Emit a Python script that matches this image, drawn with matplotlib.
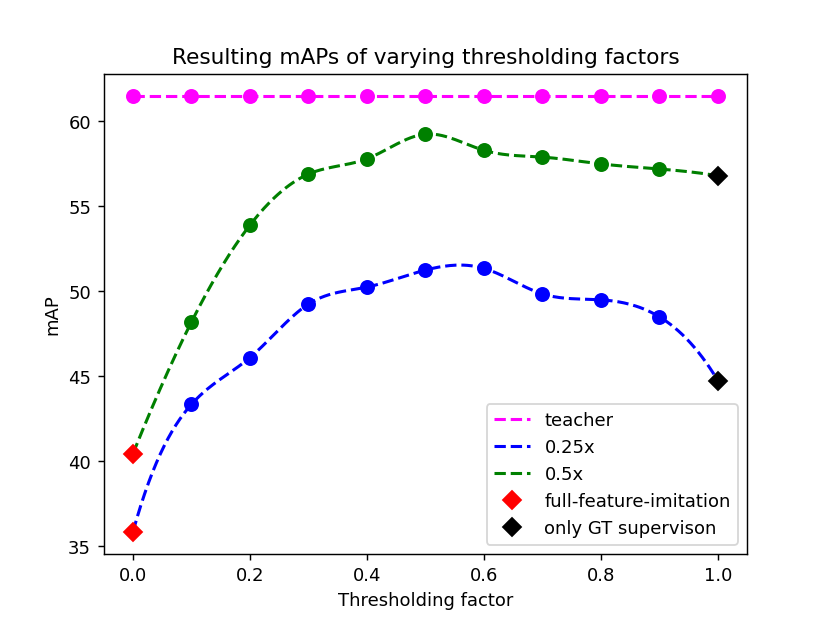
import numpy as np
import matplotlib
matplotlib.use('Agg')
import matplotlib.pyplot as plt

factors=[0.0,0.1,0.2,0.3,0.4,0.5,0.6,0.7,0.8,0.9,1.0]
teacher=[61.5]*11
map_025=[35.85,43.35,46.1,49.25,50.25,51.25,51.35,49.85,49.5,48.5,44.75]
map_05=[40.45,48.2,53.9,56.9,57.8,59.25,58.3,57.9,57.5,57.2,56.8]

def spline(x,y,num=300):
	# not-a-knot cubic spline through the points, just for drawing the curve
	x=np.asarray(x,float)
	y=np.asarray(y,float)
	n=len(x)
	h=x[1]-x[0]
	A=np.zeros((n,n))
	b=np.zeros(n)
	A[0,0:3]=[1,-2,1]
	A[-1,-3:]=[1,-2,1]
	for i in range(1,n-1):
		A[i,i-1:i+2]=[1,4,1]
		b[i]=6/h**2*(y[i-1]-2*y[i]+y[i+1])
	M=np.linalg.solve(A,b)
	xs=np.linspace(x[0],x[-1],num)
	idx=np.clip(((xs-x[0])//h).astype(int),0,n-2)
	x0=x[idx]
	x1=x[idx+1]
	ys=(M[idx]*(x1-xs)**3/(6*h)+M[idx+1]*(xs-x0)**3/(6*h)
		+(y[idx]/h-M[idx]*h/6)*(x1-xs)+(y[idx+1]/h-M[idx+1]*h/6)*(xs-x0))
	return xs,ys

plt.figure(figsize=(6.4,4.8),dpi=129.7)
xs,ys=spline(factors,teacher)
plt.plot(xs,ys,'--',color='magenta',lw=1.7,label='teacher')
xs,ys=spline(factors,map_025)
plt.plot(xs,ys,'--',color='blue',lw=1.7,label='0.25x')
xs,ys=spline(factors,map_05)
plt.plot(xs,ys,'--',color='green',lw=1.7,label='0.5x')

plt.plot(factors,teacher,'o',color='magenta',ms=7.3)
plt.plot(factors[1:-1],map_025[1:-1],'o',color='blue',ms=7.3)
plt.plot(factors[1:-1],map_05[1:-1],'o',color='green',ms=7.3)
plt.plot([factors[0],factors[0]],[map_025[0],map_05[0]],'D',color='red',ms=7.3,label='full-feature-imitation')
plt.plot([factors[-1],factors[-1]],[map_025[-1],map_05[-1]],'D',color='black',ms=7.3,label='only GT supervison')

plt.title('Resulting mAPs of varying thresholding factors')
plt.xlabel('Thresholding factor')
plt.ylabel('mAP')
plt.legend(loc='lower right')
plt.savefig('out.png',dpi=129.7)
